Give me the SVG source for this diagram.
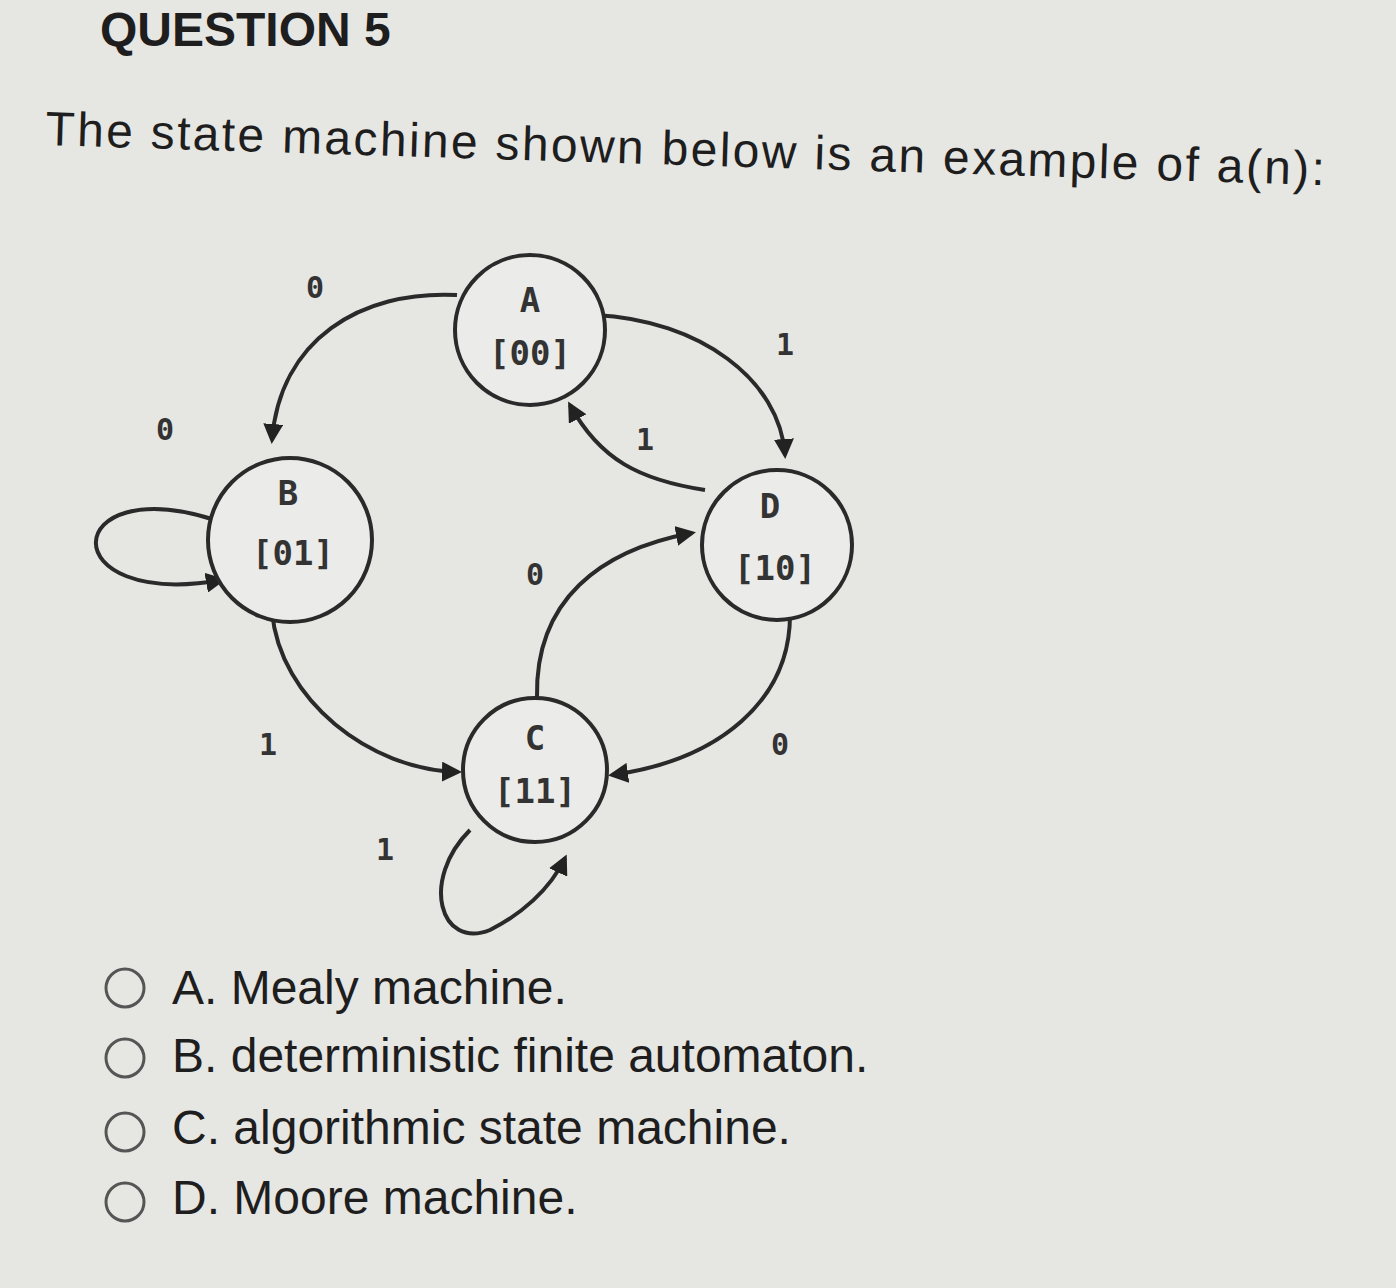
<svg xmlns="http://www.w3.org/2000/svg" width="1396" height="1288" viewBox="0 0 1396 1288">
<defs>
<marker id="ah" viewBox="0 0 10 10" refX="8" refY="5" markerWidth="5" markerHeight="5" orient="auto"><path d="M0,0 L10,5 L0,10 z" fill="#222"/></marker>
<style>
.n{fill:#ebebe9;stroke:#2a2a2a;stroke-width:4}
.e{fill:none;stroke:#2a2a2a;stroke-width:4;marker-end:url(#ah)}
.t{font-family:"DejaVu Sans Mono","Liberation Mono",monospace;font-weight:bold;font-size:34px;fill:#333;text-anchor:middle}
.l{font-family:"DejaVu Sans Mono","Liberation Mono",monospace;font-weight:bold;font-size:30px;fill:#333;text-anchor:middle}
.q{font-family:"Liberation Sans",Arial,sans-serif;font-size:48px;fill:#1e1e1e}
.r{fill:none;stroke:#555;stroke-width:3}
</style>
</defs>
<rect width="1396" height="1288" fill="#e6e6e3"/>
<text x="100" y="46" class="q" font-size="42" font-weight="bold" fill="#333">QUESTION 5</text>
<text x="45" y="145" class="q" font-size="50" textLength="1280" transform="rotate(1.8 45 145)">The state machine shown below is an example of a(n):</text>
<g id="edges">
<path class="e" d="M457,295 C360,290 280,340 272,440"/>
<path class="e" d="M215,520 C60,470 50,610 222,580"/>
<path class="e" d="M595,315 C700,320 780,380 785,455"/>
<path class="e" d="M705,490 C640,480 600,460 570,405"/>
<path class="e" d="M537,697 C535,600 600,550 692,533"/>
<path class="e" d="M272,612 C280,700 370,770 458,772"/>
<path class="e" d="M790,615 C790,700 720,760 612,775"/>
<path class="e" d="M470,830 C420,880 440,950 490,930 C520,915 550,890 565,858"/>
<text class="l" x="315" y="298">0</text>
<text class="l" x="165" y="440">0</text>
<text class="l" x="785" y="355">1</text>
<text class="l" x="645" y="450">1</text>
<text class="l" x="535" y="585">0</text>
<text class="l" x="268" y="755">1</text>
<text class="l" x="780" y="755">0</text>
<text class="l" x="385" y="860">1</text>
</g>
<g id="A"><circle class="n" cx="530" cy="330" r="75"/><text class="t" x="530" y="312">A</text><text class="t" x="530" y="365">[00]</text></g>
<g id="B"><circle class="n" cx="290" cy="540" r="82"/><text class="t" x="288" y="505">B</text><text class="t" x="293" y="565">[01]</text></g>
<g id="D"><circle class="n" cx="777" cy="545" r="75"/><text class="t" x="770" y="518">D</text><text class="t" x="775" y="580">[10]</text></g>
<g id="C"><circle class="n" cx="535" cy="770" r="72"/><text class="t" x="535" y="750">C</text><text class="t" x="535" y="803">[11]</text></g>
<g id="options">
<circle class="r" cx="125" cy="988" r="19"/><text class="q" x="172" y="1004">A. Mealy machine.</text>
<circle class="r" cx="125" cy="1058" r="19"/><text class="q" x="172" y="1072">B. deterministic finite automaton.</text>
<circle class="r" cx="125" cy="1132" r="19"/><text class="q" x="172" y="1144">C. algorithmic state machine.</text>
<circle class="r" cx="125" cy="1202" r="19"/><text class="q" x="172" y="1214">D. Moore machine.</text>
</g>
</svg>
